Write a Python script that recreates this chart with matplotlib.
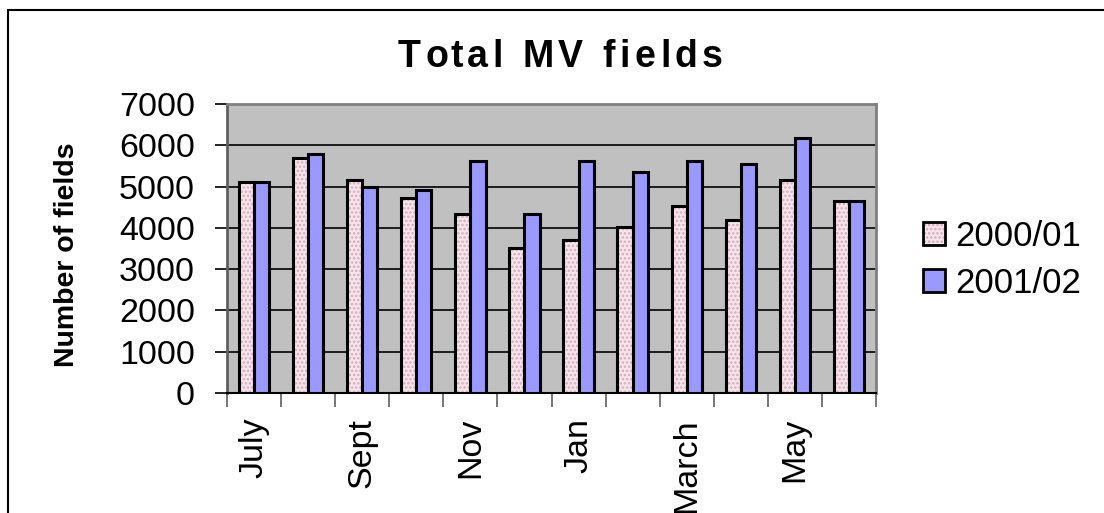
import matplotlib.pyplot as plt
from matplotlib.patches import Patch, Rectangle
from matplotlib.legend_handler import HandlerTuple

months = ['July', 'Aug', 'Sept', 'Oct', 'Nov', 'Dec',
          'Jan', 'Feb', 'March', 'April', 'May', 'June']
fields_2000 = [5100, 5700, 5170, 4720, 4330, 3510, 3700, 4030, 4530, 4200, 5170, 4650]
fields_2001 = [5100, 5800, 4980, 4920, 5610, 4330, 5610, 5360, 5610, 5540, 6170, 4650]
yticks = [0, 1000, 2000, 3000, 4000, 5000, 6000, 7000]
title = 'Total MV fields'

plt.rcParams['font.family'] = ['Liberation Sans', 'DejaVu Sans']
plt.rcParams['hatch.linewidth'] = 1.2

pink = '#f6e6ec'
pink_dots = '#d9a8bd'
blue = '#9999ff'

W, H = 1104, 513
fig = plt.figure(figsize=(W / 100, H / 100), dpi=100)
ax = fig.add_axes([227 / W, 1 - 393 / H, 649 / W, 289 / H])
ax.set_facecolor('#c0c0c0')

x = list(range(len(months)))
w = 0.28
xp = [i - w / 2 for i in x]
xb = [i + w / 2 for i in x]

# pink bars: dotted fill first, then the black outline on top
ax.bar(xp, fields_2000, w, color=pink, edgecolor=pink_dots, linewidth=0, hatch='....', zorder=3)
ax.bar(xp, fields_2000, w, fill=False, edgecolor='black', linewidth=2.2, zorder=4)
ax.bar(xb, fields_2001, w, color=blue, edgecolor='black', linewidth=2.2, zorder=4)

ax.set_xlim(-0.5, len(months) - 0.5)
ax.set_ylim(0, 7000)
ax.set_yticks(yticks)
ax.set_yticklabels([str(v) for v in yticks], fontsize=24.5)
ax.yaxis.grid(True, color='black', linewidth=1.2, zorder=1)
ax.set_axisbelow(True)

ax.set_xticks([i - 0.5 for i in range(len(months) + 1)])
ax.set_xticklabels([])
ax.set_xticks(x[::2], minor=True)
ax.set_xticklabels(months[::2], minor=True, rotation=90, fontsize=24.5, va='top')
ax.tick_params(axis='x', which='minor', length=0, pad=18)
ax.tick_params(axis='x', which='major', length=10, width=1.2, color='#606060', direction='out')
ax.tick_params(axis='y', length=9, width=1.2, color='black', direction='out', pad=14)

for side in ['top', 'right']:
    ax.spines[side].set_color('#808080')
    ax.spines[side].set_linewidth(2)
ax.spines['left'].set_color('#606060')
ax.spines['left'].set_linewidth(2)
ax.spines['bottom'].set_color('black')
ax.spines['bottom'].set_linewidth(1.5)

ax.set_ylabel('Number of fields', fontsize=20.5, fontweight='bold')
ax.yaxis.set_label_coords(-0.226, 0.48)

renderer = fig.canvas.get_renderer()


def text_width(s, **kw):
    t = fig.text(0, 0, s + 'x', **kw)
    t2 = fig.text(0, 0, 'x', **kw)
    wd = t.get_window_extent(renderer).width - t2.get_window_extent(renderer).width
    t.remove()
    t2.remove()
    return wd


# title with wide letter spacing, laid out character by character
tkw = dict(fontsize=27, fontweight='bold')
left, right, base = 398, 723, 67
gap = (right - left - text_width(title[:-1], **tkw) - text_width(title[-1], **tkw)) / (len(title) - 1)
for i, ch in enumerate(title):
    xpix = left + text_width(title[:i], **tkw) + i * gap
    fig.text(xpix / W, 1 - base / H, ch, ha='left', va='baseline', **tkw)

h_pink = (Patch(facecolor=pink, edgecolor=pink_dots, linewidth=0, hatch='....'),
          Patch(fill=False, edgecolor='black', linewidth=2))
h_blue = Patch(facecolor=blue, edgecolor='black', linewidth=2)
fig.legend([h_pink, h_blue], ['2000/01', '2001/02'],
           handler_map={tuple: HandlerTuple(ndivide=1)},
           loc='center left', bbox_to_anchor=(0.82, 0.494), frameon=False,
           fontsize=25, handlelength=0.65, handleheight=0.65, handletextpad=0.3,
           labelspacing=0.4, borderpad=0)

# outer chart border (runs off the right and bottom edges)
fig.patches.append(Rectangle((8 / W, -0.1), 1.2, 1 - 10 / H + 0.1,
                             transform=fig.transFigure, fill=False,
                             edgecolor='black', linewidth=1.5))

fig.savefig('out.png', dpi=100)
